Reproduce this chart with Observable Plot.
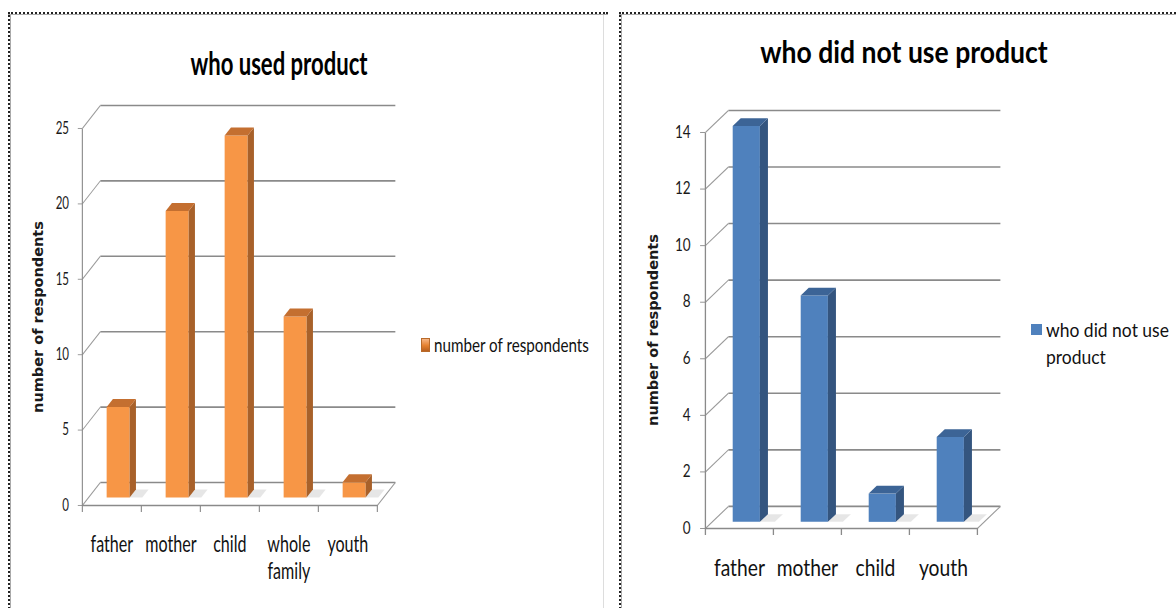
<!DOCTYPE html>
<html><head><meta charset="utf-8">
<script src="https://cdn.jsdelivr.net/npm/d3@7"></script>
<script src="https://cdn.jsdelivr.net/npm/@observablehq/plot@0.6"></script>
<style>
html,body{margin:0;padding:0;background:#fff;}
body{width:1176px;height:608px;position:relative;overflow:hidden;font-family:Lato,"Liberation Sans",sans-serif;color:#111;}
.abs{position:absolute;}
.title{position:absolute;font-weight:bold;line-height:1;white-space:nowrap;color:#000;transform-origin:50% 0;}
.leg{position:absolute;white-space:nowrap;color:#111;transform-origin:0 0;}
.ytitle{position:absolute;white-space:nowrap;font-family:"DejaVu Sans",sans-serif;font-weight:bold;font-size:14.5px;line-height:1;color:#1a1a1a;transform:translate(-50%,-50%) rotate(-90deg);}
.panel{position:absolute;top:0;transform-origin:0 0;}
svg{background:transparent !important;max-width:none !important;}
</style></head><body>
<div id="left" class="panel" style="left:0;"></div>
<div id="right" class="panel" style="left:610px;"></div>

<div class="title" id="t1" style="left:279px;top:47px;font-size:32px;"></div>
<div class="title" id="t2" style="left:904px;top:36px;font-size:30px;"></div>

<div class="ytitle" id="y1" style="left:38px;top:317px;"></div>
<div class="ytitle" id="y2" style="left:653px;top:330px;"></div>

<div class="abs" style="left:421px;top:338px;width:9px;height:14px;background:linear-gradient(#f6b584,#e4802f 55%,#b8601f);border:1px solid #b86a2a;box-sizing:border-box;"></div>
<div class="leg" id="l1" style="left:434px;top:334px;font-size:20px;line-height:20px;"></div>
<div class="abs" style="left:1031px;top:324px;width:11px;height:11px;background:#4F81BD;"></div>
<div class="leg" id="l2" style="left:1046px;top:316px;font-size:19px;line-height:27px;"></div>

<!-- panel borders -->
<div class="abs" style="left:8px;top:12px;width:600px;height:0;border-top:2px dotted #222;z-index:5"></div>
<div class="abs" style="left:8px;top:14px;width:600px;height:1px;background:#aaa;z-index:5"></div>
<div class="abs" style="left:8px;top:12px;width:0;height:600px;border-left:2px dotted #222;z-index:5"></div>
<div class="abs" style="left:10px;top:14px;width:1px;height:600px;background:#aaa;z-index:5"></div>
<div class="abs" style="left:603px;top:15px;width:1px;height:600px;background:#ddd;z-index:5"></div>
<div class="abs" style="left:619px;top:12px;width:560px;height:0;border-top:2px dotted #222;z-index:5"></div>
<div class="abs" style="left:619px;top:14px;width:560px;height:1px;background:#aaa;z-index:5"></div>
<div class="abs" style="left:619px;top:12px;width:0;height:600px;border-left:2px dotted #222;z-index:5"></div>
<div class="abs" style="left:621px;top:14px;width:1px;height:600px;background:#aaa;z-index:5"></div>

<script>
// ---------- data ----------
const titleUsed = "who used product";
const catsUsed = ["father", "mother", "child", "whole family", "youth"];
const valsUsed = [6, 19, 24, 12, 1];
const ticksUsed = [0, 5, 10, 15, 20, 25];
const legendUsed = "number of respondents";

const titleNot = "who did not use product";
const catsNot = ["father", "mother", "child", "youth"];
const valsNot = [14, 8, 1, 3];
const ticksNot = [0, 2, 4, 6, 8, 10, 12, 14];
const legendNot = ["who did not use", "product"];

const yTitle = "number of respondents";

// ---------- drawing ----------
// Each panel is drawn wider and squeezed horizontally (like the reference image).
function panel(cfg) {
  const {cats, vals, ticks, S, pageW, height, left, right, mt, mb, DX, DY, f0, f1, bw,
         front, side, top, tickFont, labelFont, labelDy, lineH, tickPad} = cfg;
  const width = pageW / S;
  const ml = left / S, mr = width - right / S;
  const n = cats.length, max = d3.max(ticks);
  const idx = d3.range(n);
  const geo = idx.map(i => {
    const xl = i + 0.5 - bw / 2 + f0 * DX, xr = xl + bw, dd = (f1 - f0) * DX;
    const b = f0 * DY, t = vals[i] + f0 * DY, e = (f1 - f0) * DY;
    return {i, xl, xr, dd, b, t, e};
  });
  const faces = kind => geo.flatMap(({i, xl, xr, dd, b, t, e}) => {
    let pts;
    if (kind === "front") pts = [[xl, b], [xr, b], [xr, t], [xl, t]];
    else if (kind === "side") pts = [[xr, b], [xr + dd, b + e], [xr + dd, t + e], [xr, t]];
    else if (kind === "top") pts = [[xl, t], [xr, t], [xr + dd, t + e], [xl + dd, t + e]];
    else pts = [[xr, b], [xr + bw * 0.55, b], [xr + bw * 0.55 + dd, b + e], [xr + dd, b + e]];
    return pts.map(([x, y]) => ({id: i, x, y}));
  });
  const poly = (kind, fill, extra = {}) =>
    Plot.line(faces(kind), {x: "x", y: "y", z: "id", fill, stroke: "none", curve: "linear-closed", ...extra});
  const grid = "#8a8a8a";
  const svg = Plot.plot({
    width, height,
    marginLeft: ml, marginRight: mr, marginTop: mt, marginBottom: mb,
    x: {type: "linear", domain: [0, n]},
    y: {domain: [0, max]},
    style: {fontFamily: 'Lato,"Liberation Sans",sans-serif', fontSize: tickFont + "px", color: "#1a1a1a", background: "transparent", overflow: "visible", maxWidth: "none"},
    marks: [
      Plot.link(ticks, {x1: () => DX, y1: t => t + DY, x2: () => n + DX, y2: t => t + DY, stroke: grid, strokeWidth: 1.6}),
      Plot.link(ticks, {x1: () => 0, y1: t => t, x2: () => DX, y2: t => t + DY, stroke: "#9a9a9a", strokeWidth: 1.2}),
      Plot.link([0], {x1: () => n, y1: () => 0, x2: () => n + DX, y2: () => DY, stroke: "#9a9a9a", strokeWidth: 1.2}),
      Plot.link([0], {x1: () => 0, y1: () => 0, x2: () => n, y2: () => 0, stroke: grid, strokeWidth: 1.6}),
      Plot.link([0], {x1: () => 0, y1: () => 0, x2: () => 0, y2: () => max, stroke: grid, strokeWidth: 1.6}),
      poly("shadow", "#b8b8b8", {fillOpacity: 0.35}),
      poly("front", front),
      poly("side", side),
      poly("top", top),
      Plot.axisY(ticks, {anchor: "left", tickSize: 6, tickPadding: tickPad, stroke: grid, fill: "#1a1a1a", label: null, fontSize: tickFont}),
      Plot.axisX(d3.range(n + 1), {anchor: "bottom", tickSize: 7, stroke: grid, strokeWidth: 1.6, tickFormat: () => "", label: null}),
      Plot.text(cats, {x: (d, i) => i + 0.5, y: () => 0, text: d => d.replace(" ", "\n"), dy: labelDy,
        lineAnchor: "top", lineHeight: lineH, fontSize: labelFont, fill: "#111"})
    ]
  });
  return {svg, width};
}

function mount(id, S, cfg) {
  const div = document.getElementById(id);
  const {svg, width} = panel({...cfg, S});
  div.style.width = width + "px";
  div.style.height = cfg.height + "px";
  div.style.transform = `scaleX(${S})`;
  div.append(svg);
}

mount("left", 0.7, {
  cats: catsUsed, vals: valsUsed, ticks: ticksUsed,
  pageW: 610, height: 608, left: 82, right: 377, mt: 128, mb: 103,
  DX: 0.305, DY: 1.525, f0: 0.35, f1: 0.7, bw: 0.39,
  front: "#F79646", side: "#A8612A", top: "#C46F30",
  tickFont: 16.5, labelFont: 23, labelDy: 28, lineH: 1.15, tickPad: 13
});
mount("right", 0.82, {
  cats: catsNot, vals: valsNot, ticks: ticksNot,
  pageW: 566, height: 608, left: 95, right: 367, mt: 132, mb: 80,
  DX: 0.338, DY: 0.78, f0: 0.3, f1: 0.65, bw: 0.4,
  front: "#4F81BD", side: "#34557F", top: "#3C6496",
  tickFont: 16.5, labelFont: 23.5, labelDy: 28, lineH: 1.15, tickPad: 12
});

const t1 = document.getElementById("t1");
t1.textContent = titleUsed;
t1.style.transform = "translateX(-50%) scaleX(0.69)";
const t2 = document.getElementById("t2");
t2.textContent = titleNot;
t2.style.transform = "translateX(-50%) scaleX(0.885)";
document.getElementById("y1").textContent = yTitle;
document.getElementById("y2").textContent = yTitle;
const l1 = document.getElementById("l1");
l1.textContent = legendUsed;
l1.style.transform = "scaleX(0.76)";
const l2 = document.getElementById("l2");
l2.innerHTML = legendNot.join("<br>");
l2.style.transform = "scaleX(0.92)";
</script>
</body></html>
